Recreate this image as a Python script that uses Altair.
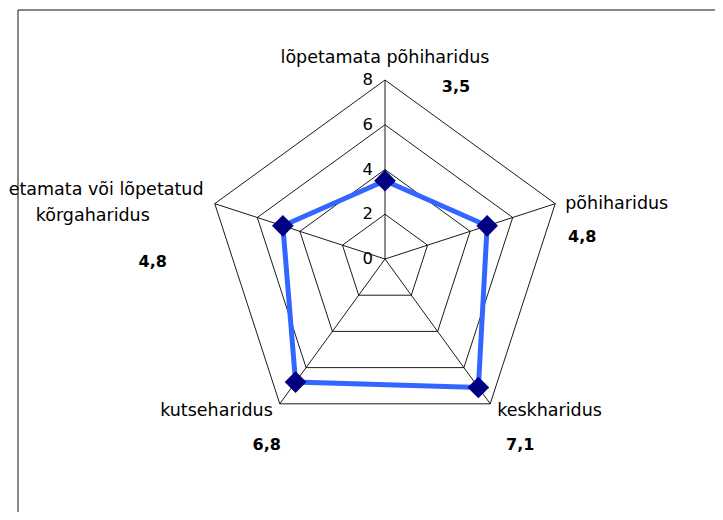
import altair as alt
import pandas as pd

# ---- data ----
categories = [
    "lõpetamata põhiharidus",
    "põhiharidus",
    "keskharidus",
    "kutseharidus",
    "lõpetamata või lõpetatud\nkõrgaharidus",
]
values = [3.5, 4.8, 7.1, 6.8, 4.8]
value_labels = ["3,5", "4,8", "7,1", "6,8", "4,8"]
ticks = [0, 2, 4, 6, 8]
tick_labels = ["0", "2", "4", "6", "8"]
r_max = 8

# ---- layout ----
W, H = 707, 504
CX, CY, RPX = 377, 251, 179
k = RPX / r_max
xdom = [-CX / k, (W - CX) / k]
ydom = [-(H - CY) / k, CY / k]
n = len(categories)
FONT = "DejaVu Sans"

xs = alt.Scale(domain=xdom, nice=False, zero=False)
ys = alt.Scale(domain=ydom, nice=False, zero=False)
X = alt.X("x:Q", scale=xs, axis=None)
Y = alt.Y("y:Q", scale=ys, axis=None)


def polar(ch):
    return ch.transform_calculate(
        theta="datum.idx * 2 * PI / %d" % n,
    ).transform_calculate(
        x="datum.r * sin(datum.theta)",
        y="datum.r * cos(datum.theta)",
    )


# data tables built from the arrays
series = pd.DataFrame({
    "idx": list(range(n)) + [0],
    "order": list(range(n + 1)),
    "r": values + [values[0]],
})
markers = pd.DataFrame({"idx": list(range(n)), "r": values})
grid_rows = []
for lv in ticks:
    for j in range(n + 1):
        grid_rows.append({"level": lv, "order": j, "idx": j % n, "r": lv})
grid = pd.DataFrame(grid_rows)
spokes = pd.DataFrame({"idx": list(range(n)), "r": [r_max] * n})
tick_df = pd.DataFrame({"idx": [0] * len(ticks), "r": ticks, "lab": tick_labels})
lab_df = pd.DataFrame({
    "idx": list(range(n)),
    "r": [r_max] * n,
    "name": categories,
    "vlab": value_labels,
})

frame = alt.Chart(pd.DataFrame({"a": [0]})).mark_rect(
    fill=None, stroke="#111111", strokeWidth=1
).encode(
    x=alt.value(10), y=alt.value(2), x2=alt.value(W + 60), y2=alt.value(H + 60)
)

grid_lines = polar(alt.Chart(grid)).mark_line(
    color="black", strokeWidth=0.9
).encode(x=X, y=Y, detail="level:N", order="order:Q")

spoke_lines = polar(alt.Chart(spokes)).transform_calculate(zero="0").mark_rule(
    color="black", strokeWidth=0.9
).encode(x=X, y=Y, x2="zero:Q", y2="zero:Q")

tick_text = polar(alt.Chart(tick_df)).mark_text(
    align="right", baseline="middle", dx=-12, font=FONT, fontSize=16.5, color="black"
).encode(x=X, y=Y, text="lab:N")

series_line = polar(alt.Chart(series)).mark_line(
    color="#3366FF", strokeWidth=5
).encode(x=X, y=Y, order="order:Q")

series_pts = polar(alt.Chart(markers)).mark_point(
    shape="diamond", filled=True, color="#000080", size=470, opacity=1
).encode(x=X, y=Y)

name_style = [
    dict(dx=0, dy=-17, align="center"),
    dict(dx=10, dy=5, align="left"),
    dict(dx=7, dy=12, align="left"),
    dict(dx=-7, dy=12, align="right"),
    dict(dx=-122, dy=-9, align="center"),
]
value_style = [
    dict(dx=71, dy=12),
    dict(dx=27, dy=38),
    dict(dx=30, dy=46),
    dict(dx=-13, dy=46),
    dict(dx=-62, dy=63),
]

label_layers = []
for i in range(n):
    base = polar(alt.Chart(lab_df)).transform_filter("datum.idx == %d" % i)
    label_layers.append(
        base.mark_text(
            baseline="alphabetic", font=FONT, fontSize=17.5, color="black",
            lineBreak="\n", lineHeight=26, **name_style[i]
        ).encode(x=X, y=Y, text="name:N")
    )
    label_layers.append(
        base.mark_text(
            baseline="alphabetic", align="center", font=FONT, fontSize=16,
            fontWeight="bold", color="black", **value_style[i]
        ).encode(x=X, y=Y, text="vlab:N")
    )

chart = alt.layer(
    frame, grid_lines, spoke_lines, tick_text, series_line, series_pts, *label_layers
).properties(
    width=W, height=H, padding=0,
    autosize=alt.AutoSizeParams(type="none"),
    background="white",
).configure_view(strokeWidth=0)

chart.save("out.html", embed_options={"renderer": "svg", "actions": False})
